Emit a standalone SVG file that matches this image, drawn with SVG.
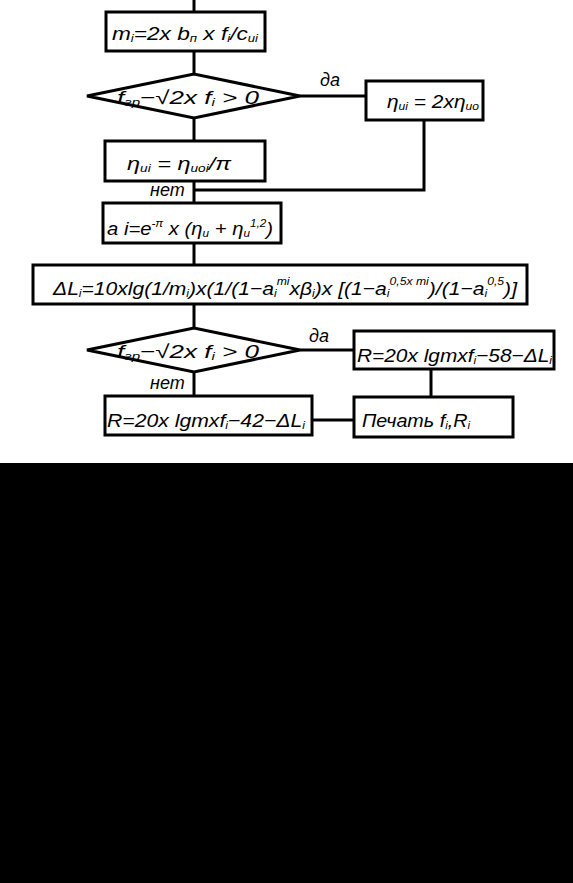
<svg xmlns="http://www.w3.org/2000/svg" width="573" height="883" viewBox="0 0 573 883">
<style>
.b{fill:#fff;stroke:#000;stroke-width:3}
.c{fill:none;stroke:#000;stroke-width:3}
text{font-family:"Liberation Sans",Arial,sans-serif;font-style:italic;font-size:19px;fill:#000}
.s{font-size:11px}
.l{font-size:18px}
</style>
<rect x="0" y="0" width="573" height="463" fill="#fff"/>
<rect x="0" y="463" width="573" height="420" fill="#000"/>
<g id="connectors">
<path class="c" d="M194 0V12M194 51V74M194 118V141M300 96H366M424 120V190H194M194 181V203M194 243V265M194 304V328M194 372V396M300 350H354M431 369V397M312 420H354"/>
</g>
<g id="n1"><rect class="b" x="106" y="12" width="159" height="39"/>
<text x="112" y="40" textLength="146" lengthAdjust="spacingAndGlyphs">m<tspan class="s" dy="2">i</tspan><tspan dy="-2">=2x b</tspan><tspan class="s" dy="2">п</tspan><tspan dy="-2"> x f</tspan><tspan class="s" dy="2">i</tspan><tspan dy="-2">/c</tspan><tspan class="s" dy="2">ui</tspan></text></g>
<g id="d1"><polygon class="b" points="87,96 194,74 300,96 194,118"/>
<text x="117" y="104" textLength="142" lengthAdjust="spacingAndGlyphs">f<tspan class="s" dy="2">гр</tspan><tspan dy="-2">−√2x f</tspan><tspan class="s" dy="2">i</tspan><tspan dy="-2"> &gt; 0</tspan></text>
<text class="l" x="320" y="86">да</text></g>
<g id="n2"><rect class="b" x="366" y="81" width="117" height="39"/>
<text x="387" y="108" textLength="92" lengthAdjust="spacingAndGlyphs">η<tspan class="s" dy="2">ui</tspan><tspan dy="-2"> = 2xη</tspan><tspan class="s" dy="2">uo</tspan></text></g>
<g id="n3"><rect class="b" x="105" y="141" width="160" height="40"/>
<text x="127" y="170" textLength="104" lengthAdjust="spacingAndGlyphs">η<tspan class="s" dy="2">ui</tspan><tspan dy="-2"> = η</tspan><tspan class="s" dy="2">uoi</tspan><tspan dy="-2">/π</tspan></text>
<text class="l" x="150" y="196">нет</text></g>
<g id="n4"><rect class="b" x="103" y="203" width="178" height="40"/>
<text x="107" y="235" textLength="166" lengthAdjust="spacingAndGlyphs">a i=e<tspan class="s" dy="-8">-π</tspan><tspan dy="8"> x (η</tspan><tspan class="s" dy="2">u</tspan><tspan dy="-2"> + η</tspan><tspan class="s" dy="2">u</tspan><tspan class="s" dy="-10">1,2</tspan><tspan dy="8">)</tspan></text></g>
<g id="n5"><rect class="b" x="33" y="265" width="494" height="39"/>
<text x="53" y="295" textLength="464" lengthAdjust="spacingAndGlyphs">ΔL<tspan class="s" dy="2">i</tspan><tspan dy="-2">=10xlg(1/m</tspan><tspan class="s" dy="2">i</tspan><tspan dy="-2">)x(1/(1−a</tspan><tspan class="s" dy="2">i</tspan><tspan class="s" dy="-12">mi</tspan><tspan dy="10">xβ</tspan><tspan class="s" dy="2">i</tspan><tspan dy="-2">)x [(1−a</tspan><tspan class="s" dy="2">i</tspan><tspan class="s" dy="-12">0,5x mi</tspan><tspan dy="10">)/(1−a</tspan><tspan class="s" dy="2">i</tspan><tspan class="s" dy="-12">0,5</tspan><tspan dy="10">)]</tspan></text></g>
<g id="d2"><polygon class="b" points="87,350 194,328 300,350 194,372"/>
<text x="117" y="358" textLength="142" lengthAdjust="spacingAndGlyphs">f<tspan class="s" dy="2">гр</tspan><tspan dy="-2">−√2x f</tspan><tspan class="s" dy="2">i</tspan><tspan dy="-2"> &gt; 0</tspan></text>
<text class="l" x="309" y="342">да</text>
<text class="l" x="150" y="389">нет</text></g>
<g id="n6"><rect class="b" x="354" y="331" width="200" height="38"/>
<text x="357" y="362" textLength="195" lengthAdjust="spacingAndGlyphs">R=20x lgmxf<tspan class="s" dy="2">i</tspan><tspan dy="-2">−58−ΔL</tspan><tspan class="s" dy="2">i</tspan></text></g>
<g id="n7"><rect class="b" x="105" y="396" width="207" height="39"/>
<text x="107" y="427" textLength="198" lengthAdjust="spacingAndGlyphs">R=20x lgmxf<tspan class="s" dy="2">i</tspan><tspan dy="-2">−42−ΔL</tspan><tspan class="s" dy="2">i</tspan></text></g>
<g id="n8"><rect class="b" x="354" y="397" width="159" height="40"/>
<text x="362" y="427" textLength="108" lengthAdjust="spacingAndGlyphs">Печать f<tspan class="s" dy="2">i</tspan><tspan dy="-2">,R</tspan><tspan class="s" dy="2">i</tspan></text></g>
</svg>
